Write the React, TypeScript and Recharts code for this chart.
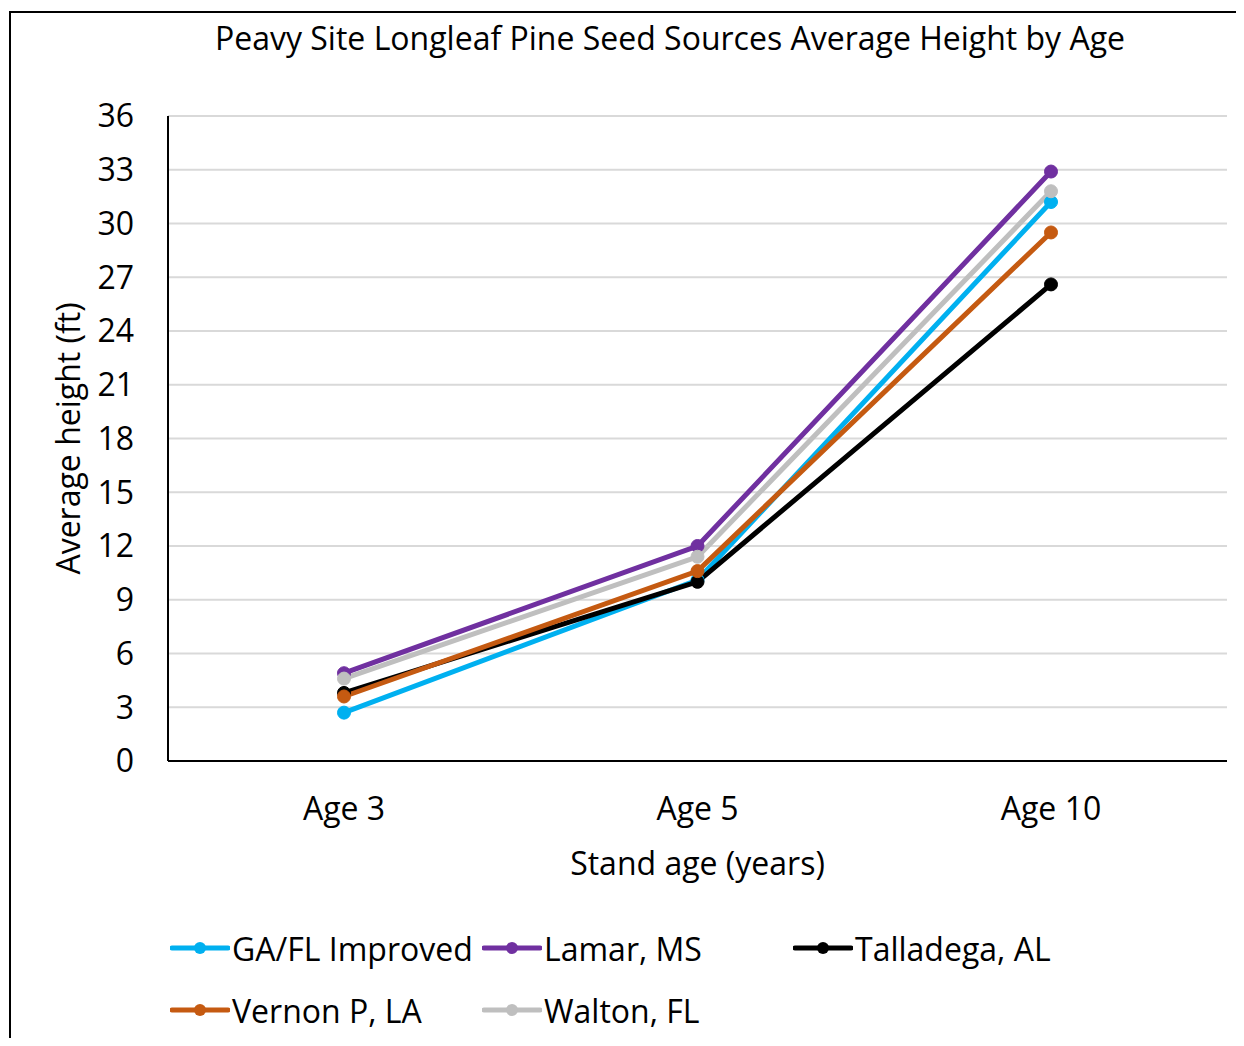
import { CartesianGrid, Line, LineChart, XAxis, YAxis } from 'recharts';

const ages = ['Age 3', 'Age 5', 'Age 10'];
const yTicks = [0, 3, 6, 9, 12, 15, 18, 21, 24, 27, 30, 33, 36];

const gaFlImproved = [2.7, 10.1, 31.2];
const lamarMs = [4.9, 12.0, 32.9];
const talladegaAl = [3.8, 10.0, 26.6];
const vernonPLa = [3.6, 10.6, 29.5];
const waltonFl = [4.6, 11.4, 31.8];

const series = [
  { key: 'gaFl', name: 'GA/FL Improved', values: gaFlImproved, color: '#00b0f0' },
  { key: 'lamar', name: 'Lamar, MS', values: lamarMs, color: '#7030a0' },
  { key: 'talladega', name: 'Talladega, AL', values: talladegaAl, color: '#000000' },
  { key: 'vernon', name: 'Vernon P, LA', values: vernonPLa, color: '#c55a11' },
  { key: 'walton', name: 'Walton, FL', values: waltonFl, color: '#bfbfbf' },
];

const data = ages.map((age, i) => {
  const row: Record<string, string | number> = { age };
  series.forEach((s) => {
    row[s.key] = s.values[i];
  });
  return row;
});

const FONT = '"Open Sans", sans-serif';
const TXT = '#000';
const FS = 32;

function YTitle({ viewBox }: any) {
  const cx = viewBox.x + 59;
  const cy = viewBox.y + viewBox.height / 2;
  return (
    <text
      x={cx}
      y={cy}
      transform={`rotate(-90, ${cx}, ${cy})`}
      textAnchor="middle"
      dominantBaseline="central"
      fontSize={FS}
      fontFamily={FONT}
      fill={TXT}
    >
      Average height (ft)
    </text>
  );
}

function XTitle({ viewBox }: any) {
  const cx = viewBox.x + viewBox.width / 2;
  return (
    <text
      x={cx}
      y={862}
      textAnchor="middle"
      dominantBaseline="central"
      fontSize={FS}
      fontFamily={FONT}
      fill={TXT}
    >
      Stand age (years)
    </text>
  );
}

function LegendKey({ color }: { color: string }) {
  return (
    <svg width={60} height={16} style={{ display: 'block' }}>
      <line x1={2} y1={8} x2={58} y2={8} stroke={color} strokeWidth={5} strokeLinecap="round" />
      <circle cx={30} cy={8} r={6} fill={color} />
    </svg>
  );
}

const legendCols = [172, 484, 795];
const legendRows = [948, 1010];

export default function App() {
  return (
    <div
      style={{
        position: 'relative',
        width: 1244,
        height: 1046,
        margin: -8,
        overflow: 'hidden',
        background: '#fff',
        fontFamily: FONT,
      }}
    >
      <div
        style={{
          position: 'absolute',
          left: 9,
          top: 11,
          width: 1400,
          height: 1200,
          borderTop: '2px solid #000',
          borderLeft: '2px solid #000',
          boxSizing: 'border-box',
        }}
      />
      <div
        style={{
          position: 'absolute',
          left: 0,
          width: 1340,
          top: 16,
          textAlign: 'center',
          fontSize: FS,
          lineHeight: '44px',
          color: TXT,
        }}
      >
        Peavy Site Longleaf Pine Seed Sources Average Height by Age
      </div>
      <div style={{ position: 'absolute', left: 0, top: 0 }}>
        <LineChart
          width={1244}
          height={1046}
          data={data}
          margin={{ top: 116, right: 17, bottom: 225, left: 8 }}
        >
          <CartesianGrid vertical={false} stroke="#d9d9d9" strokeWidth={2} />
          <XAxis
            dataKey="age"
            padding={{ left: 176, right: 176 }}
            height={60}
            axisLine={{ stroke: '#000', strokeWidth: 2 }}
            tickLine={false}
            tickSize={0}
            tickMargin={36}
            tick={{ fontSize: FS, fill: TXT, fontFamily: FONT }}
            label={<XTitle />}
          />
          <YAxis
            domain={[0, 36]}
            ticks={yTicks}
            interval={0}
            width={160}
            axisLine={{ stroke: '#000', strokeWidth: 2 }}
            tickLine={false}
            tickSize={0}
            tickMargin={34}
            tick={{ fontSize: FS, fill: TXT, fontFamily: FONT }}
            label={<YTitle />}
          />
          {series.map((s) => (
            <Line
              key={s.key}
              dataKey={s.key}
              name={s.name}
              stroke={s.color}
              strokeWidth={5}
              dot={{ r: 6.5, fill: s.color, stroke: s.color, strokeWidth: 1 }}
              activeDot={false}
              isAnimationActive={false}
            />
          ))}
        </LineChart>
      </div>
      {series.map((s, i) => (
        <div
          key={s.key}
          style={{
            position: 'absolute',
            left: legendCols[i % 3] - 2,
            top: legendRows[Math.floor(i / 3)] - 22,
            height: 44,
            display: 'flex',
            alignItems: 'center',
            fontSize: FS,
            color: TXT,
            whiteSpace: 'nowrap',
          }}
        >
          <LegendKey color={s.color} />
          <span style={{ marginLeft: 2 }}>{s.name}</span>
        </div>
      ))}
    </div>
  );
}
